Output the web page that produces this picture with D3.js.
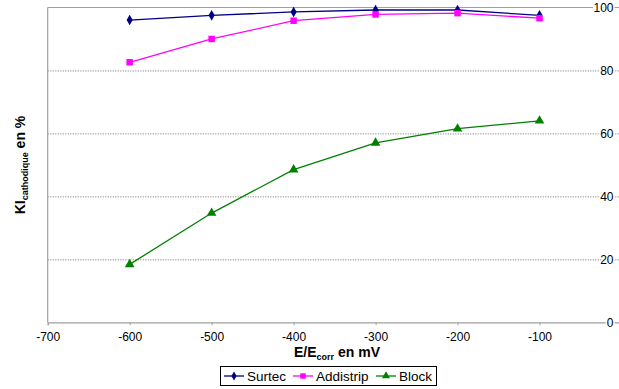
<!DOCTYPE html>
<html><head><meta charset="utf-8">
<script src="https://cdn.jsdelivr.net/npm/d3@7"></script>
<style>body{margin:0;background:#fff}svg{display:block;font-family:"Liberation Sans",Arial,sans-serif}</style>
</head><body><svg id="c" width="619" height="389"></svg>
<script>
const xValues = [-600, -500, -400, -300, -200, -100];
const surtec = [96.0, 97.5, 98.6, 99.2, 99.2, 97.5];
const addistrip = [82.6, 90.0, 95.8, 97.8, 98.2, 96.6];
const block = [18.4, 34.7, 48.5, 57.0, 61.5, 64.0];
const xTicks = [-700, -600, -500, -400, -300, -200, -100, 0];
const yTicks = [0, 20, 40, 60, 80, 100];
const seriesNames = ["Surtec", "Addistrip", "Block"];
const seriesColors = ["#000080", "#FF00FF", "#008000"];
const seriesSymbols = [d3.symbolDiamond, d3.symbolSquare, d3.symbolTriangle];

const svg = d3.select("#c");
const x = d3.scaleLinear().domain([-700, 0]).range([47.7, 621.5]);
const y = d3.scaleLinear().domain([0, 100]).range([322.3, 7.5]);

// gridlines
svg.append("g").selectAll("line").data(yTicks.filter(v => v > 0 && v < 100)).join("line")
  .attr("x1", x(-700)).attr("x2", x(0)).attr("y1", d => y(d) + 0.5).attr("y2", d => y(d) + 0.5)
  .attr("stroke", "#888").attr("stroke-dasharray", "1.2,1.3").attr("stroke-width", 1);
// plot border top & left
svg.append("line").attr("x1", x(-700)).attr("x2", x(0)).attr("y1", y(100)).attr("y2", y(100)).attr("stroke", "#a0a0a0").attr("stroke-width", 1.2);
svg.append("line").attr("x1", x(-700)).attr("x2", x(-700)).attr("y1", y(100)).attr("y2", y(0)).attr("stroke", "#a0a0a0").attr("stroke-width", 1.2);

// x axis
const xAxis = d3.axisBottom(x).tickValues(xTicks).tickSize(3).tickFormat(d3.format("d"));
const gx = svg.append("g").attr("transform", `translate(0,${y(0)})`).call(xAxis);
gx.select(".domain").attr("stroke", "#a0a0a0").attr("stroke-width", 1.2);
gx.selectAll(".tick line").attr("stroke", "#a0a0a0");
gx.selectAll(".tick text").attr("font-size", 12).attr("fill", "#000").attr("dy", "1.05em")
  .attr("font-family", '"Liberation Sans",Arial,sans-serif').text(d => d === 0 ? "" : d);

// y axis labels (right side, at x=0 axis)
const yAxis = d3.axisLeft(y).tickValues(yTicks).tickSize(0).tickPadding(8);
const gy = svg.append("g").attr("transform", `translate(${x(0)},0)`).call(yAxis);
gy.select(".domain").remove();
gy.selectAll(".tick text").attr("font-size", 12).attr("fill", "#000")
  .attr("font-family", '"Liberation Sans",Arial,sans-serif')
  .attr("stroke", "#fff").attr("stroke-width", 3).attr("paint-order", "stroke").attr("dy", "0.35em");

// series
const allSeries = [surtec, addistrip, block];
allSeries.forEach((vals, i) => {
  const pts = xValues.map((xv, j) => [xv, vals[j]]);
  svg.append("path").datum(pts)
    .attr("d", d3.line().x(d => x(d[0])).y(d => y(d[1])))
    .attr("fill", "none").attr("stroke", seriesColors[i]).attr("stroke-width", 1.3);
  const sizes = [32, 42, 40];
  svg.append("g").selectAll("path").data(pts).join("path")
    .attr("transform", d => `translate(${x(d[0])},${y(d[1])})`)
    .attr("d", d3.symbol().type(seriesSymbols[i]).size(sizes[i]))
    .attr("fill", seriesColors[i]);
});

// axis titles
const yt = svg.append("text").attr("transform", "translate(25,165) rotate(-90)")
  .attr("text-anchor", "middle").attr("font-weight", "bold").attr("font-size", 14);
yt.append("tspan").text("KI");
yt.append("tspan").attr("font-size", 9).attr("dy", 3).text("cathodique");
yt.append("tspan").attr("dy", -3).text(" en %");

const xt = svg.append("text").attr("x", 337).attr("y", 357)
  .attr("text-anchor", "middle").attr("font-weight", "bold").attr("font-size", 14);
xt.append("tspan").text("E/E");
xt.append("tspan").attr("font-size", 9).attr("dy", 3).text("corr");
xt.append("tspan").attr("dy", -3).text(" en mV");

// legend
const lg = svg.append("g");
lg.append("rect").attr("x", 220.5).attr("y", 366.5).attr("width", 216).attr("height", 19)
  .attr("fill", "#fff").attr("stroke", "#000").attr("stroke-width", 1);
const legX = [224, 293, 376];
seriesNames.forEach((n, i) => {
  const g = lg.append("g").attr("transform", `translate(${legX[i]},376)`);
  g.append("line").attr("x1", 0).attr("x2", 20).attr("stroke", seriesColors[i]).attr("stroke-width", 1.3);
  g.append("path").attr("transform", "translate(10,0)")
    .attr("d", d3.symbol().type(seriesSymbols[i]).size([24, 30, 28][i])).attr("fill", seriesColors[i]);
  g.append("text").attr("x", 23).attr("y", 5).attr("font-size", 13.5).text(n);
});
</script></body></html>
